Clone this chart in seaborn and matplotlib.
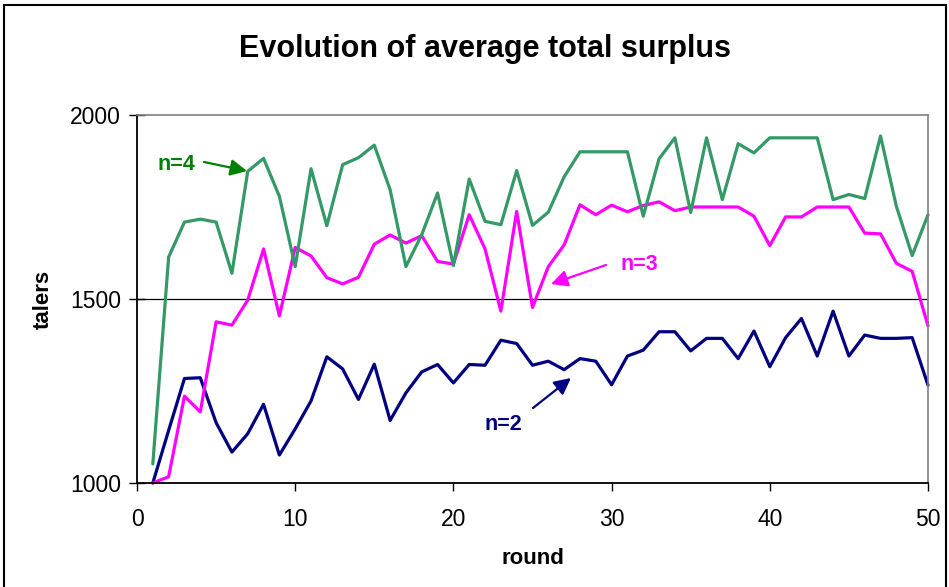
import numpy as np
import pandas as pd
import matplotlib
matplotlib.use("Agg")
import matplotlib.pyplot as plt
from matplotlib.patches import Rectangle
import seaborn as sns

rounds = list(range(1, 51))

# average total surplus per round
n2 = [1000, 1143, 1284, 1286, 1164, 1084, 1134, 1214, 1076, 1147,
      1223, 1343, 1310, 1227, 1323, 1170, 1245, 1302, 1322, 1272,
      1322, 1320, 1388, 1379, 1320, 1331, 1308, 1338, 1331, 1267,
      1345, 1361, 1411, 1411, 1359, 1393, 1393, 1338, 1413, 1316,
      1395, 1447, 1345, 1467, 1345, 1402, 1393, 1393, 1395, 1266]

n3 = [1000, 1017, 1236, 1193, 1438, 1429, 1497, 1636, 1454, 1640,
      1617, 1558, 1541, 1559, 1649, 1674, 1652, 1672, 1602, 1595,
      1729, 1636, 1467, 1738, 1477, 1588, 1647, 1756, 1729, 1755,
      1737, 1754, 1764, 1740, 1750, 1750, 1750, 1750, 1725, 1645,
      1723, 1723, 1750, 1750, 1750, 1679, 1677, 1597, 1575, 1427]

n4 = [1052, 1614, 1709, 1717, 1709, 1570, 1847, 1882, 1779, 1588,
      1854, 1699, 1865, 1884, 1918, 1797, 1588, 1675, 1788, 1591,
      1826, 1711, 1702, 1849, 1700, 1736, 1832, 1900, 1900, 1900,
      1900, 1725, 1881, 1938, 1735, 1938, 1770, 1922, 1897, 1938,
      1938, 1938, 1938, 1770, 1784, 1773, 1943, 1752, 1618, 1729]

groups = ["n=2", "n=3", "n=4"]
colors = {"n=2": "#000080", "n=3": "#FF00FF", "n=4": "#339966"}
label_colors = {"n=2": "#000080", "n=3": "#FF00FF", "n=4": "#008000"}

df = pd.DataFrame({
    "round": rounds * 3,
    "talers": n2 + n3 + n4,
    "group": [g for g in groups for _ in rounds],
})

sns.set_style("white")
plt.rcParams["font.family"] = ["Liberation Sans", "DejaVu Sans"]
plt.rcParams["text.color"] = "black"
plt.rcParams["axes.labelcolor"] = "black"
plt.rcParams["xtick.color"] = "black"
plt.rcParams["ytick.color"] = "black"

fig = plt.figure(figsize=(9.49, 5.87), dpi=100)
ax = fig.add_axes([137 / 949, 1 - 483 / 587, (928 - 137) / 949, (483 - 115) / 587])

sns.lineplot(data=df, x="round", y="talers", hue="group", palette=colors,
             linewidth=2.3, legend=False, ax=ax, clip_on=False)

ax.set_xlim(0, 50)
ax.set_ylim(1000, 2000)
ax.set_xticks([0, 10, 20, 30, 40, 50])
ax.set_yticks([1000, 1500, 2000])
ax.axhline(1500, color="black", lw=0.9, zorder=0)
ax.tick_params(axis="y", direction="inout", length=11, width=1, labelsize=16.5, pad=6, left=True)
ax.tick_params(axis="x", direction="out", length=6, width=1, labelsize=16.5, pad=12, bottom=True)

for s in ["left", "bottom"]:
    ax.spines[s].set_color("black")
    ax.spines[s].set_linewidth(1.3)
for s in ["top", "right"]:
    ax.spines[s].set_color("#808080")
    ax.spines[s].set_linewidth(1.2)

ax.set_xlabel("round", fontsize=16, fontweight="bold", labelpad=12)
ax.set_ylabel("talers", fontsize=16, fontweight="bold", labelpad=12)
fig.text(485 / 949, 1 - 49 / 587, "Evolution of average total surplus",
         fontsize=22, fontweight="bold", ha="center", va="center")


def px(x, y):
    return (x / 949, 1 - y / 587)


# (label, text position, arrow start, arrow tip) in pixels
notes = [
    ("n=4", (176, 165), (204, 162), (247, 171)),
    ("n=3", (639, 264), (606, 265), (551, 284)),
    ("n=2", (503, 425), (533, 408), (571, 378)),
]
for name, tpos, start, tip in notes:
    c = label_colors[name]
    fig.text(*px(*tpos), name, color=c, fontsize=15.5, fontweight="bold",
             ha="center", va="center")
    ax.annotate("", xy=px(*tip), xycoords="figure fraction",
                xytext=px(*start), textcoords="figure fraction",
                arrowprops=dict(arrowstyle="-|>,head_length=0.5,head_width=0.25",
                                lw=1.6, color=c, mutation_scale=20,
                                shrinkA=0, shrinkB=0))

# outer chart border
fig.patches.append(Rectangle((4 / 949, -0.05), 942 / 949, 1.05 - 5 / 587,
                             transform=fig.transFigure, fill=False,
                             edgecolor="black", lw=1.5))

fig.savefig("out.png", dpi=100)
